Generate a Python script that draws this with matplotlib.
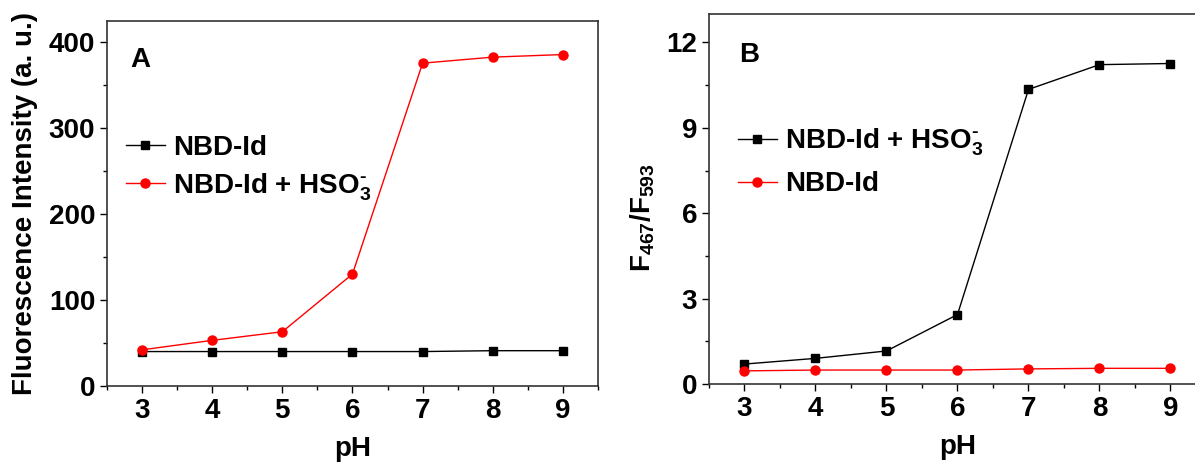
import numpy as np
import matplotlib
matplotlib.use("Agg")
import matplotlib.pyplot as plt
from matplotlib.ticker import MultipleLocator

plt.rcParams['font.family'] = ['Liberation Sans', 'DejaVu Sans']
plt.rcParams['font.weight'] = 'bold'
plt.rcParams['mathtext.fontset'] = 'custom'
plt.rcParams['mathtext.rm'] = 'Liberation Sans:bold'
plt.rcParams['mathtext.it'] = 'Liberation Sans:bold'
plt.rcParams['mathtext.bf'] = 'Liberation Sans:bold'

ph = [3, 4, 5, 6, 7, 8, 9]

# panel A: fluorescence intensity
a_probe = [40, 40, 40, 40, 40, 41, 41]
a_probe_hso3 = [42, 53, 63, 130, 375, 382, 385]

# panel B: ratio F467/F593
b_probe_hso3 = [0.70, 0.90, 1.16, 2.44, 10.35, 11.22, 11.26]
b_probe = [0.46, 0.49, 0.49, 0.49, 0.53, 0.55, 0.55]

lbl_probe = 'NBD-Id'
lbl_hso3 = r'NBD-Id + HSO$_3^{\text{-}}$'

fs = 20

fig = plt.figure(figsize=(11.95, 4.66), dpi=100)
axA = fig.add_axes([0.0895, 0.1717, 0.4109, 0.7833])
axB = fig.add_axes([0.5933, 0.176, 0.4159, 0.794])


def style(ax):
    ax.set_xlim(2.5, 9.5)
    ax.xaxis.set_major_locator(MultipleLocator(1))
    ax.xaxis.set_minor_locator(MultipleLocator(0.5))
    ax.tick_params(which='major', direction='out', length=5, width=1,
                   labelsize=fs, top=False, right=False)
    ax.tick_params(which='minor', direction='out', length=3, width=1,
                   top=False, right=False)
    for s in ax.spines.values():
        s.set_linewidth(1.2)
        s.set_color('#333333')
    for t in ax.get_xticklabels() + ax.get_yticklabels():
        t.set_fontweight('bold')
    ax.set_xlabel('pH', fontsize=fs, fontweight='bold', labelpad=9)


# A
axA.plot(ph, a_probe, color='black', marker='s', markersize=6, linewidth=1,
         label=lbl_probe)
axA.plot(ph, a_probe_hso3, color='red', marker='o', markersize=6.5, linewidth=1,
         label=lbl_hso3)
axA.set_ylim(0, 424)
axA.yaxis.set_major_locator(MultipleLocator(100))
axA.yaxis.set_minor_locator(MultipleLocator(50))
style(axA)
axA.set_ylabel('Fluorescence Intensity (a. u.)', fontsize=fs, fontweight='bold',
               labelpad=8)
axA.text(0.047, 0.875, 'A', transform=axA.transAxes, fontsize=fs, fontweight='bold')
axA.legend(loc='center left', bbox_to_anchor=(0.01, 0.595), frameon=False,
           fontsize=fs, handlelength=1.4, handletextpad=0.3, labelspacing=0.36,
           borderpad=0.2, borderaxespad=0.3)

# B
axB.plot(ph, b_probe_hso3, color='black', marker='s', markersize=6, linewidth=1,
         label=lbl_hso3)
axB.plot(ph, b_probe, color='red', marker='o', markersize=6.5, linewidth=1,
         label=lbl_probe)
axB.set_ylim(0, 13)
axB.yaxis.set_major_locator(MultipleLocator(3))
axB.yaxis.set_minor_locator(MultipleLocator(1.5))
style(axB)
axB.set_ylabel(r'F$_{467}$/F$_{593}$', fontsize=fs, fontweight='bold')
axB.yaxis.set_label_coords(-0.105, 0.45)
axB.text(0.06, 0.87, 'B', transform=axB.transAxes, fontsize=fs, fontweight='bold')
axB.legend(loc='center left', bbox_to_anchor=(0.03, 0.6), frameon=False,
           fontsize=fs, handlelength=1.4, handletextpad=0.3, labelspacing=0.48,
           borderpad=0.2, borderaxespad=0.3)

fig.savefig('out.png', dpi=100)
